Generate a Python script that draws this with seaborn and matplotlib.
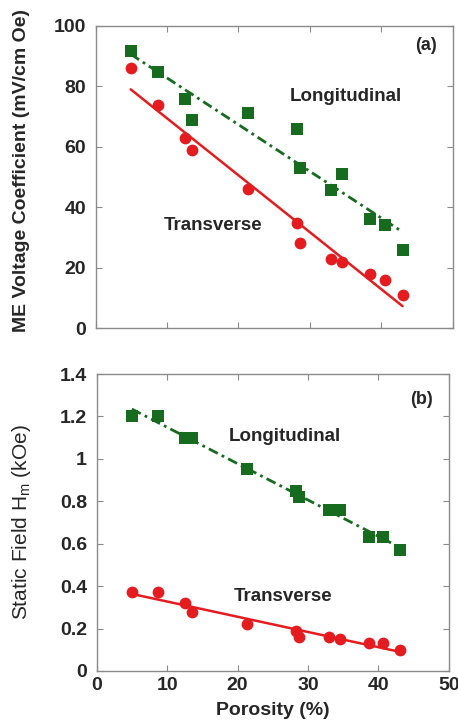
import numpy as np
import pandas as pd
import seaborn as sns
import matplotlib
matplotlib.use('Agg')
import matplotlib.pyplot as plt

# ---- data ----
# (a) ME voltage coefficient
por_a_long = [4.9, 8.7, 12.5, 13.5, 21.3, 28.2, 28.6, 33.0, 34.5, 38.5, 40.6, 43.0]
me_long = [91.7, 84.8, 75.9, 68.8, 71.0, 65.9, 53.1, 45.8, 51.0, 36.0, 34.0, 25.9]
por_a_trans = [4.9, 8.7, 12.5, 13.5, 21.3, 28.2, 28.6, 33.0, 34.5, 38.5, 40.6, 43.0]
me_trans = [85.9, 73.8, 63.0, 58.9, 45.9, 34.9, 28.1, 23.0, 22.0, 17.8, 16.0, 11.0]

# (b) static field Hm
por_b_long = [5.0, 8.75, 12.5, 13.5, 21.3, 28.3, 28.7, 33.0, 34.5, 38.6, 40.6, 43.0]
hm_long = [1.20, 1.20, 1.10, 1.10, 0.95, 0.85, 0.82, 0.76, 0.76, 0.63, 0.63, 0.57]
por_b_trans = [5.0, 8.75, 12.5, 13.6, 21.3, 28.3, 28.7, 33.0, 34.5, 38.6, 40.6, 43.1]
hm_trans = [0.37, 0.37, 0.32, 0.28, 0.22, 0.19, 0.16, 0.16, 0.15, 0.13, 0.13, 0.10]

xticks = [0, 10, 20, 30, 40, 50]
yticks_a = [0, 20, 40, 60, 80, 100]
yticks_b = [0, 0.2, 0.4, 0.6, 0.8, 1, 1.2, 1.4]
ytick_labels_b = ['0', '0.2', '0.4', '0.6', '0.8', '1', '1.2', '1.4']

green = '#166b1f'
red = '#e51c1f'
dashdot = (0, (3.6, 1.6, 1.0, 1.6))

sns.set_style('ticks')
plt.rcParams['font.family'] = ['Liberation Sans', 'DejaVu Sans']

fig = plt.figure(figsize=(4.58, 7.26), dpi=100)
ax1 = fig.add_axes([0.209, 0.5478, 0.779, 0.4168])
ax2 = fig.add_axes([0.211, 0.0758, 0.769, 0.409])


def panel(ax, xl, yl, xt, yt):
    sns.regplot(x=np.array(xl), y=np.array(yl), ax=ax, ci=None, color=green,
                marker='s', scatter_kws={'s': 72, 'alpha': 1, 'linewidths': 0, 'zorder': 3},
                line_kws={'lw': 2.0, 'ls': dashdot, 'zorder': 2})
    sns.regplot(x=np.array(xt), y=np.array(yt), ax=ax, ci=None, color=red,
                marker='o', scatter_kws={'s': 72, 'alpha': 1, 'linewidths': 0, 'zorder': 3},
                line_kws={'lw': 1.8, 'ls': '-', 'zorder': 2})
    for sp in ax.spines.values():
        sp.set_color('#8a8a8a')
        sp.set_linewidth(1.0)
    ax.tick_params(direction='in', top=True, right=True, length=4,
                   color='#8a8a8a', labelsize=14)
    ax.tick_params(axis='y', pad=7)
    ax.tick_params(axis='x', pad=4)
    ax.set_xlim(0, 50)


panel(ax1, por_a_long, me_long, por_a_trans, me_trans)
ax1.set_ylim(0, 100)
ax1.set_xticks(xticks)
ax1.set_xticklabels([])
ax1.set_yticks(yticks_a)
ax1.set_yticklabels([str(v) for v in yticks_a], fontweight='bold')
ax1.set_xlabel('')
ax1.set_ylabel('ME Voltage Coefficient (mV/cm Oe)', fontsize=14, fontweight='bold')
ax1.yaxis.set_label_coords(-0.185, 0.52)
ax1.text(0.955, 0.935, '(a)', transform=ax1.transAxes, ha='right', va='center',
         fontsize=13, fontweight='bold')
ax1.text(0.70, 0.765, 'Longitudinal', transform=ax1.transAxes, ha='center',
         va='center', fontsize=13.5, fontweight='bold')
ax1.text(0.33, 0.34, 'Transverse', transform=ax1.transAxes, ha='center',
         va='center', fontsize=13.5, fontweight='bold')

panel(ax2, por_b_long, hm_long, por_b_trans, hm_trans)
ax2.set_ylim(0, 1.4)
ax2.set_xticks(xticks)
ax2.set_xticklabels([str(v) for v in xticks], fontweight='bold')
ax2.set_yticks(yticks_b)
ax2.set_yticklabels(ytick_labels_b, fontweight='bold')
ax2.set_xlabel('Porosity (%)', fontsize=14, fontweight='bold', labelpad=6)
ax2.set_ylabel('Static Field H$_\\mathregular{m}$ (kOe)', fontsize=15)
ax2.yaxis.set_label_coords(-0.18, 0.5)
ax2.text(0.955, 0.915, '(b)', transform=ax2.transAxes, ha='right', va='center',
         fontsize=13, fontweight='bold')
ax2.text(0.535, 0.79, 'Longitudinal', transform=ax2.transAxes, ha='center',
         va='center', fontsize=13.5, fontweight='bold')
ax2.text(0.53, 0.25, 'Transverse', transform=ax2.transAxes, ha='center',
         va='center', fontsize=13.5, fontweight='bold')

fig.savefig('out.png', dpi=100)
